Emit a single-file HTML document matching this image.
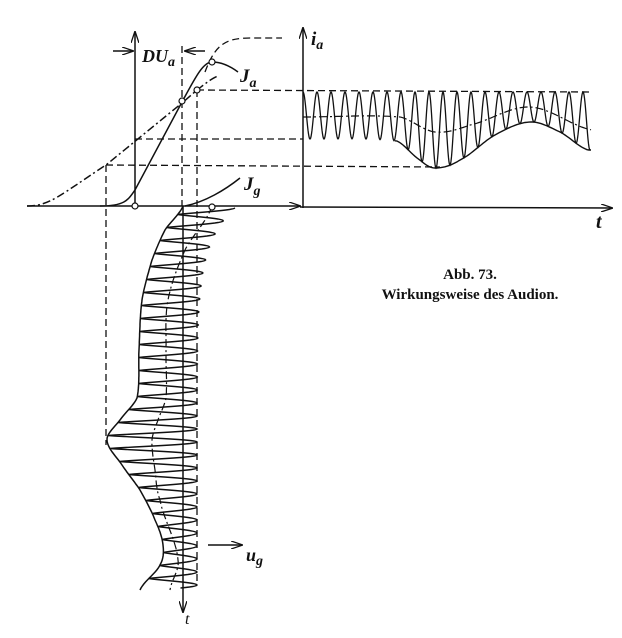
<!DOCTYPE html>
<html><head><meta charset="utf-8"><style>
html,body{margin:0;padding:0;background:#fff}
svg{display:block}
text{font-family:"Liberation Serif",serif;fill:#111}
</style></head><body>
<svg id="s" width="622" height="638" viewBox="0 0 622 638" xmlns="http://www.w3.org/2000/svg">
<defs><marker id="ar" markerWidth="12" markerHeight="8" refX="11" refY="4" orient="auto" markerUnits="userSpaceOnUse"><path d="M0,0 L12,4 L0,8" fill="none" stroke="#111" stroke-width="1.3"/></marker></defs>
<g stroke="#111" stroke-width="1.5" fill="none">
<line x1="27" y1="206" x2="300" y2="206" marker-end="url(#ar)"/>
<line x1="300" y1="207" x2="612" y2="208" marker-end="url(#ar)"/>
<line x1="135" y1="206" x2="135" y2="32" marker-end="url(#ar)"/>
<line x1="303" y1="208" x2="303" y2="28" marker-end="url(#ar)"/>
<line x1="183" y1="206" x2="183" y2="612" marker-end="url(#ar)"/>
<line x1="208" y1="545" x2="242" y2="545" marker-end="url(#ar)"/>
<line x1="113" y1="51" x2="133" y2="51" marker-end="url(#ar)"/>
<line x1="205" y1="51" x2="185" y2="51" marker-end="url(#ar)"/>
<g stroke-dasharray="7,4" stroke-width="1.3">
<line x1="182" y1="46" x2="182" y2="206"/>
<line x1="197" y1="90" x2="197" y2="585"/>
<line x1="106" y1="165" x2="106" y2="445"/>
<line x1="197" y1="90" x2="590" y2="92"/>
<line x1="135" y1="139" x2="303" y2="139"/>
<line x1="106" y1="165" x2="440" y2="167"/>
<path d="M205,72 C215,45 225,38 250,38 L282,38"/>
</g>
<path stroke-dasharray="8,3,2,3" d="M27,206 C50,206 60,195 106,165 L182,103 L197,90 C205,84 212,78 218,76"/>
<path d="M100,206 C125,206 128,200 135,190 L182,102 C195,78 203,62 212,62 C222,62 230,66 238,72"/>
<path d="M185,206 C205,202 225,190 240,178"/>
<path id="gw" stroke-width="1.4"/>
<path id="ge" stroke-width="1.5"/>
<path id="gm" stroke-width="1.2" stroke-dasharray="8,3,2,3"/>
<path id="rw" stroke-width="1.3"/>
<path id="re" stroke-width="1.4"/>
<path id="rm" stroke-width="1.2" stroke-dasharray="8,3,2,3"/>
</g>
<g fill="#fff" stroke="#111" stroke-width="1.2">
<circle cx="135" cy="206" r="3"/><circle cx="182" cy="101" r="3"/><circle cx="197" cy="90" r="3"/><circle cx="212" cy="62" r="3"/><circle cx="212" cy="207" r="3"/>
</g>
<text x="142" y="62" font-size="18" font-style="italic" font-weight="bold" font-family="Liberation Sans">DU<tspan font-size="14" dy="4">a</tspan></text>
<text x="240" y="82" font-size="19" font-style="italic" font-weight="bold" font-family="Liberation Sans">J<tspan font-size="14" dy="5">a</tspan></text>
<text x="244" y="190" font-size="19" font-style="italic" font-weight="bold" font-family="Liberation Sans">J<tspan font-size="14" dy="5">g</tspan></text>
<text x="311" y="45" font-size="19" font-style="italic" font-weight="bold" font-family="Liberation Sans">i<tspan font-size="14" dy="4">a</tspan></text>
<text x="596" y="228" font-size="20" font-style="italic" font-weight="bold" font-family="Liberation Sans">t</text>
<text x="246" y="561" font-size="18" font-style="italic" font-weight="bold" font-family="Liberation Sans">u<tspan font-size="14" dy="4">g</tspan></text>
<text x="185" y="624" font-size="16" font-style="italic" font-family="Liberation Sans">t</text>
<text x="470" y="279" font-size="15" font-weight="bold" text-anchor="middle">Abb. 73.</text>
<text x="470" y="299" font-size="15" font-weight="bold" text-anchor="middle">Wirkungsweise des Audion.</text>
</svg>
<script>
function interp(p,v){
 for(var i=0;i<p.length-1;i++){if(v<=p[i+1][0]){
  var t=(v-p[i][0])/(p[i+1][0]-p[i][0]);
  var p0=p[Math.max(0,i-1)][1],p1=p[i][1],p2=p[i+1][1],p3=p[Math.min(p.length-1,i+2)][1];
  var t2=t*t,t3=t2*t;
  return 0.5*((2*p1)+(-p0+p2)*t+(2*p0-5*p1+4*p2-p3)*t2+(-p0+3*p1-3*p2+p3)*t3);
 }}return p[p.length-1][1];}
var L=[[206,183],[230,165],[260,152],[300,142],[350,139],[398,137],[420,120],[440,107],[465,122],[490,140],[520,155],[545,163],[565,160],[590,140]];
var M=[[206,212],[250,185],[300,168],[350,166],[398,166],[420,158],[440,152],[470,155],[500,160],[560,178],[590,170]];
var d="",e="",m="";
for(var y=208;y<=588;y+=0.5){var l=interp(L,y);var r=197+38*Math.exp(-(y-208)/35);var c=0.5+0.5*Math.cos(2*Math.PI*(y-208)/13);var x=l+(r-l)*Math.pow(c,0.6);d+=(y==208?"M":"L")+x.toFixed(1)+","+y;}
for(var y=206;y<=590;y+=2){e+=(y==206?"M":"L")+interp(L,y).toFixed(1)+","+y;m+=(y==206?"M":"L")+interp(M,y).toFixed(1)+","+y;}
document.getElementById("gw").setAttribute("d",d);
document.getElementById("ge").setAttribute("d",e);
document.getElementById("gm").setAttribute("d",m);
var LO=[[303,139],[397,141],[420,160],[435,168],[460,160],[495,135],[530,122],[560,132],[588,150]];
var MI=[[303,117],[400,117],[435,132],[470,125],[530,107],[592,130]];
var rd="",re="",rm="";
for(var x=303;x<=590;x+=0.5){var lo=interp(LO,x);var c=0.5-0.5*Math.cos(2*Math.PI*(x-303)/14);var yy=92+(lo-92)*c;rd+=(x==303?"M":"L")+x+","+yy.toFixed(1);}
for(var x=395;x<=592;x+=2){re+=(x==395?"M":"L")+x+","+interp(LO,x).toFixed(1);}
for(var x=303;x<=592;x+=2){rm+=(x==303?"M":"L")+x+","+interp(MI,x).toFixed(1);}
document.getElementById("rw").setAttribute("d",rd);
document.getElementById("re").setAttribute("d",re);
document.getElementById("rm").setAttribute("d",rm);
</script>
</body></html>
